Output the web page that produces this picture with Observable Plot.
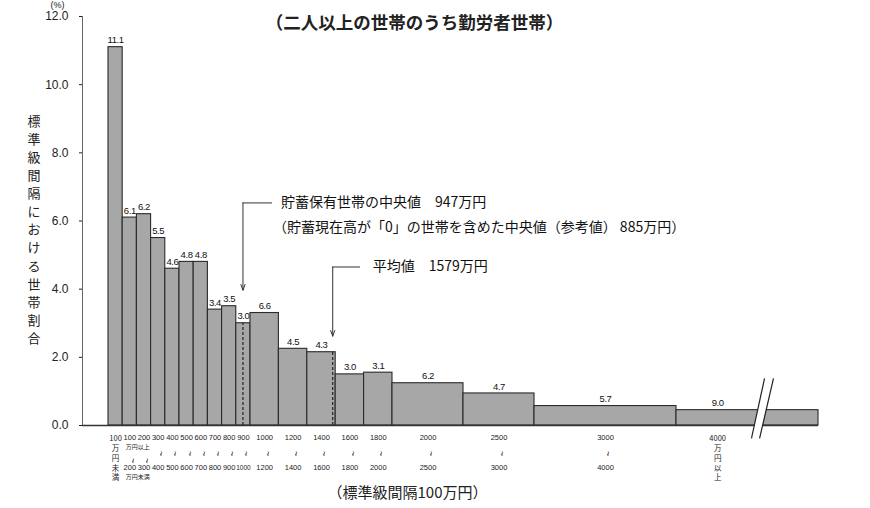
<!DOCTYPE html>
<html><head><meta charset="utf-8">
<script src="https://cdn.jsdelivr.net/npm/d3@7"></script>
<script src="https://cdn.jsdelivr.net/npm/@observablehq/plot@0.6"></script>
<style>
body{margin:0;background:#fff;}
svg{font-family:"Liberation Sans",Arial,sans-serif;}
.vlab text{letter-spacing:-0.4px;}
</style></head>
<body><div id="chart"></div>
<script>
// Class bounds (万円); the open class "4000以上" is drawn to 5000 with a break
const classLow  = [0,100,200,300,400,500,600,700,800,900,1000,1200,1400,1600,1800,2000,2500,3000,4000];
const classHigh = [100,200,300,400,500,600,700,800,900,1000,1200,1400,1600,1800,2000,2500,3000,4000,5000];
// Share of households in each class (%), as printed on the bars
const pctLabels = ["11.1","6.1","6.2","5.5","4.6","4.8","4.8","3.4","3.5","3.0","6.6","4.5","4.3","3.0","3.1","6.2","4.7","5.7","9.0"];
// Bar heights: share per standard class interval (100万円)
const barHeights = [11.1,6.1,6.2,5.5,4.6,4.8,4.8,3.4,3.5,3.0,3.3,2.25,2.15,1.5,1.55,1.24,0.94,0.57,0.45];
// Tick labels under each class
const tickTop    = ["100","100","200","300","400","500","600","700","800","900","1000","1200","1400","1600","1800","2000","2500","3000","4000"];
const tickBottom = ["","200","300","400","500","600","700","800","900","1000","1200","1400","1600","1800","2000","2500","3000","4000",""];
const yTicks = [0,2,4,6,8,10,12];
const yTitle = "標準級間隔における世帯割合";

const median = 947, mean = 1579;
const breakX = 4600;

const bars = classLow.map((lo,i)=>({
  i, lo, hi: classHigh[i], h: barHeights[i], label: pctLabels[i],
  top: tickTop[i], bottom: tickBottom[i],
  cx: i === classLow.length-1 ? (lo+breakX)/2 - 10 : (lo+classHigh[i])/2
}));
const last = bars.length-1;
const rangeTicks = bars.filter(d=> d.i>=1 && d.i<last);
const squiggleHigh = bars.filter(d=> d.i>=3 && d.i<last);
const squiggleLow = bars.filter(d=> d.i===1 || d.i===2);
const medianBar = bars.find(d=>d.lo<=median && d.hi>median);
const meanBar = bars.find(d=>d.lo<=mean && d.hi>mean);

const xMin = -183, xMax = 5000;
const jp = "'Noto Sans CJK JP','Noto Sans',sans-serif";
const titleChars = yTitle.split("").map((c,i)=>({c,i}));

const chart = Plot.plot({
  width: 870, height: 508,
  marginLeft: 82, marginRight: 52, marginTop: 16, marginBottom: 83,
  x: {type: "linear", domain: [xMin, xMax], axis: null},
  y: {type: "linear", domain: [0, 12], axis: null},
  marks: [
    Plot.rectY(bars, {x1:"lo", x2:"hi", y:"h", fill:"#a7a7a7", stroke:"#2a2a2a", strokeWidth:1.1}),
    // dashed lines at median and mean
    Plot.ruleX([{x:median, y2:medianBar.h}], {x:"x", y1:0, y2:"y2", stroke:"#222", strokeDasharray:"3,2", strokeWidth:1.2}),
    Plot.ruleX([{x:mean, y2:meanBar.h}], {x:"x", y1:0, y2:"y2", stroke:"#222", strokeDasharray:"3,2", strokeWidth:1.2}),
    // axis lines
    Plot.ruleX([xMin], {y1:0, y2:12, stroke:"#666", strokeWidth:1}),
    Plot.ruleY([0], {x1:xMin, x2:xMax, stroke:"#333", strokeWidth:1.5}),
    Plot.axisY({ticks: yTicks, tickFormat: d=>d.toFixed(1), tickSize: 3, tickPadding: 11, fontSize: 12, anchor:"left", color:"#222"}),
    // break mark
    Plot.link([{x1:4651, y1:1.38, x2:4556, y2:-0.38}], {x1:"x1",y1:"y1",x2:"x2",y2:"y2", stroke:"white", strokeWidth:8}),
    Plot.link([{x1:4620, y1:1.38, x2:4528, y2:-0.38},{x1:4683, y1:1.38, x2:4585, y2:-0.38}], {x1:"x1",y1:"y1",x2:"x2",y2:"y2", stroke:"#222", strokeWidth:1.2}),
    // value labels
    Plot.text(bars, {x:"cx", y:"h", text:"label", dy:-7, fontSize:9.5, fill:"#111", className:"vlab"}),
    // x tick labels
    Plot.text(rangeTicks, {x:"cx", text:"top", frameAnchor:"bottom", dy:14, fontSize:7.5, fill:"#222"}),
    Plot.text(rangeTicks, {x:"cx", text:"bottom", frameAnchor:"bottom", dy:44, fontSize:d=>d.i===9?6.5:7.5, fill:"#222"}),
    Plot.text(squiggleHigh, {x:"cx", text:()=>"~", frameAnchor:"bottom", dy:28, rotate:90, fontSize:9, fill:"#222"}),
    Plot.text(squiggleLow, {x:"cx", text:()=>"~", frameAnchor:"bottom", dy:35, rotate:90, fontSize:9, fill:"#222"}),
    Plot.text([bars[0]], {x:"cx", text:d=>d.top + "\n万\n円\n未\n満", frameAnchor:"bottom", lineAnchor:"top", dy:9, fontSize:7.5, lineHeight:1.3, fontFamily: jp, fill:"#222"}),
    Plot.text([bars[1]], {x:"cx", text:["万円以上"], frameAnchor:"bottom", textAnchor:"start", dx:-4, dy:23, fontSize:6, fontFamily: jp, fill:"#222"}),
    Plot.text([bars[1]], {x:"cx", text:["万円未満"], frameAnchor:"bottom", textAnchor:"start", dx:-4, dy:53.5, fontSize:6, fontFamily: jp, fill:"#222"}),
    Plot.text([bars[last]], {x:"cx", text:d=>d.top + "\n万\n円\n以\n上", frameAnchor:"bottom", lineAnchor:"top", dy:9, fontSize:7.5, lineHeight:1.3, fontFamily: jp, fill:"#222"}),
    // median annotation
    Plot.ruleY([{y:6.53, x1:median, x2:1155}], {y:"y", x1:"x1", x2:"x2", stroke:"#333", strokeWidth:1}),
    Plot.arrow([{x:median, y1:6.53, y2:3.97}], {x1:"x", x2:"x", y1:"y1", y2:"y2", stroke:"#333", strokeWidth:1, headLength:9, headAngle:40}),
    Plot.text(["貯蓄保有世帯の中央値　947万円"], {x:[median], y:[6.53], dx:38, textAnchor:"start", fontSize:14, fontFamily: jp, fill:"#111"}),
    Plot.text(["（貯蓄現在高が「0」の世帯を含めた中央値（参考値） 885万円）"], {x:[median], y:[6.53], dx:30, dy:25, textAnchor:"start", fontSize:14, fontFamily: jp, fill:"#111"}),
    // mean annotation
    Plot.ruleY([{y:4.65, x1:mean, x2:1775}], {y:"y", x1:"x1", x2:"x2", stroke:"#333", strokeWidth:1}),
    Plot.arrow([{x:mean, y1:4.65, y2:2.62}], {x1:"x", x2:"x", y1:"y1", y2:"y2", stroke:"#333", strokeWidth:1, headLength:9, headAngle:40}),
    Plot.text(["平均値　1579万円"], {x:[mean], y:[4.65], dx:40, textAnchor:"start", fontSize:14, fontFamily: jp, fill:"#111"}),
    // title, axis titles
    Plot.text(["（二人以上の世帯のうち勤労者世帯）"], {frameAnchor:"top", dx:-36, dy:0, fontSize:17.5, fontWeight:"bold", fontFamily: jp, fill:"#222"}),
    Plot.text(["（標準級間隔100万円）"], {frameAnchor:"bottom", dx:-43, dy:72, fontSize:15, fontFamily: jp, fill:"#222"}),
    Plot.text(titleChars, {y: d=> 8.91 - d.i*0.53, text:"c", frameAnchor:"left", dx:-55, fontSize:13, fontFamily: jp, fill:"#222"}),
    Plot.text(["(%)"], {frameAnchor:"top-left", dx:-32, dy:-15, fontSize:9, fill:"#222"})
  ]
});
document.getElementById("chart").append(chart);
</script>
</body></html>
